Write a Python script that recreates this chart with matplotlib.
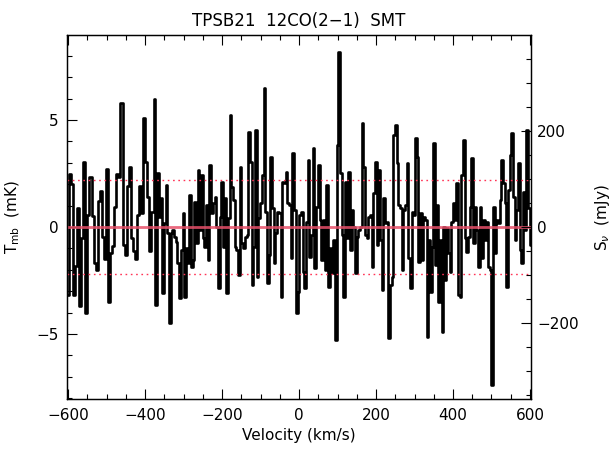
import numpy as np
import matplotlib
matplotlib.use('Agg')
import matplotlib.pyplot as plt
from matplotlib.ticker import MultipleLocator

# velocity pieces (km/s) that each list of channels below was read from
seg_edges = [-604, -373, -141, 93, 327, 560, 604]

# main-beam temperature per channel (mK)
tmb_1 = [-3.2, 2.5, 2.0, -3.2, -1.8, 0.9, -3.7, -0.5, 3.05, -4.0, 0.56, 2.35,
         0.5, -1.7, -2.0, 1.2, 1.7, -0.45, -1.5, 2.7, -3.5, -1.2, -0.9, 0.95,
         2.5, 2.35, 5.8, -0.85, -1.3, 1.9, 2.8, -0.5, -1.1, -1.5, 0.56, 1.9,
         0.64, 5.1, 3.05, 1.4, -1.1, 0.7, 6.0]
tmb_2 = [-3.64, 2.51, 0.48, 1.34, -3.1, 0.17, 1.96, -0.3, -4.5, -0.3, -0.14,
         -0.45, -0.69, -1.7, -3.33, -1.07, 0.64, -3.26, -1.0, -1.7, 1.5, -1.85,
         -1.54, 1.18, -0.76, 2.66, -0.14, 2.43, -0.53, -0.92, 1.03, -1.54, 2.9,
         0.64, 1.1, 1.42, 0.02, -2.87, 0.48, 2.12, -0.92, 1.34, -3.1, 0.4,
         5.23, 1.88, 1.26, -0.92, -1.07, -2.24, 2.82, -0.76, -1.0]
tmb_3 = [-0.45, -0.37, 4.45, 3.05, -2.71, -0.92, 4.53, -2.32, 0.4, 1.1, 2.43,
         6.48, 0.72, -2.63, -1.31, 3.29, 0.87, -1.7, -0.3, 0.72, 0.64, -3.26,
         2.12, 2.04, 2.59, 1.1, 1.03, -1.46, 3.44, 0.79, -4.03, -3.02, 0.56,
         0.72, -2.09, -2.87, 0.25, 3.13, -1.39, -0.37, 3.68, -1.93, 0.95, 2.9,
         0.33, -1.54, 0.33, -2.01, 1.96, -2.79, -1.0, -2.17, -0.61]
tmb_4 = [-5.28, 3.83, 8.19, 2.51, -0.37, -3.26, 2.12, -0.53, 2.59, -1.07, 0.79,
         0.02, -2.17, -0.45, -0.14, 0.02, 4.84, 2.82, -0.37, -0.53, 0.48, 0.56,
         -1.85, 1.57, 3.05, -0.84, 2.66, -0.61, -2.94, 1.34, 0.17, 0.25, -5.2,
         -2.71, -2.32, 4.3, 4.77, 2.98, 1.03, 0.87, -2.01, 0.79, 1.03, 2.98,
         -1.46, -2.87, 0.72, 0.56, 4.14, 3.29, -1.62, 0.64, -1.54, 0.48]
tmb_5 = [0.33, -5.12, -0.61, -3.02, -0.92, 3.91, -1.78, 1.03, -3.49, -0.61,
         -4.89, 0.02, -2.48, -0.06, -1.23, -2.09, 0.25, 1.1, 0.33, 2.04, -3.18,
         -3.26, 2.43, 4.07, -0.53, -1.15, -0.45, 0.95, 3.21, -0.76, 0.95, -0.14,
         -1.85, 0.95, -1.46, 0.33, -0.61, 0.25, -1.85, -2.01, -7.38, 0.95,
         -1.23, 0.33, 0.17, 1.26, 3.13, 2.04, 1.1, -2.79, 1.73, 3.36, 4.38, 1.42]
tmb_6 = [-0.61, 0.79, 2.98, -1.07, -1.7, 1.65, -0.14, 4.53, 0.87, -0.84]

rms = 2.18          # mK, dotted lines
jy_per_k = 44.5     # mJy per mK for the right-hand axis

segs = [tmb_1, tmb_2, tmb_3, tmb_4, tmb_5, tmb_6]
vel = np.concatenate([lo + (np.arange(len(s)) + 0.5) * (hi - lo) / len(s)
                      for lo, hi, s in zip(seg_edges[:-1], seg_edges[1:], segs)])
tmb = np.concatenate(segs)

plt.rcParams['font.family'] = 'DejaVu Sans'
plt.rcParams['font.size'] = 11

fig = plt.figure(figsize=(6.16, 4.57), dpi=100)
ax = fig.add_axes([0.1083, 0.1263, 0.7545, 0.7965])

ax.step(vel, tmb, where='mid', color='black', lw=1.9, zorder=2)
ax.axhline(0, color='#e8506a', lw=2, alpha=0.85, zorder=3)
for lev in (rms, -rms):
    ax.axhline(lev, color='#ff3355', lw=1, ls=(0, (1.2, 2.6)), zorder=3)

ax.set_xlim(-604, 604)
ax.set_ylim(-8.05, 8.96)
ax.xaxis.set_major_locator(MultipleLocator(200))
ax.xaxis.set_minor_locator(MultipleLocator(50))
ax.yaxis.set_major_locator(MultipleLocator(5))
ax.yaxis.set_minor_locator(MultipleLocator(1))
ax.tick_params(which='both', direction='in', top=True, right=False, width=0.8)
ax.tick_params(which='major', length=7)
ax.tick_params(which='minor', length=3.5)
ax.tick_params(axis='x', pad=6)
ax.tick_params(axis='y', pad=6)

ax.set_title('TPSB21  12CO(2\u22121)  SMT', fontsize=12, pad=7)
ax.set_xlabel('Velocity (km/s)', labelpad=4)
ax.set_ylabel(r'T$_{\rm mb}$  (mK)', labelpad=10)

ax2 = ax.twinx()
ax2.set_ylim(-8.05 * jy_per_k, 8.96 * jy_per_k)
ax2.yaxis.set_major_locator(MultipleLocator(200))
ax2.yaxis.set_minor_locator(MultipleLocator(50))
ax2.tick_params(which='both', direction='in', width=0.8, pad=4)
ax2.tick_params(which='major', length=7)
ax2.tick_params(which='minor', length=3.5)
ax2.set_ylabel(r'S$_\nu$  (mJy)', rotation=90, labelpad=10)

for a in (ax, ax2):
    for sp in a.spines.values():
        sp.set_linewidth(0.9)

fig.savefig('out.png', dpi=100)
